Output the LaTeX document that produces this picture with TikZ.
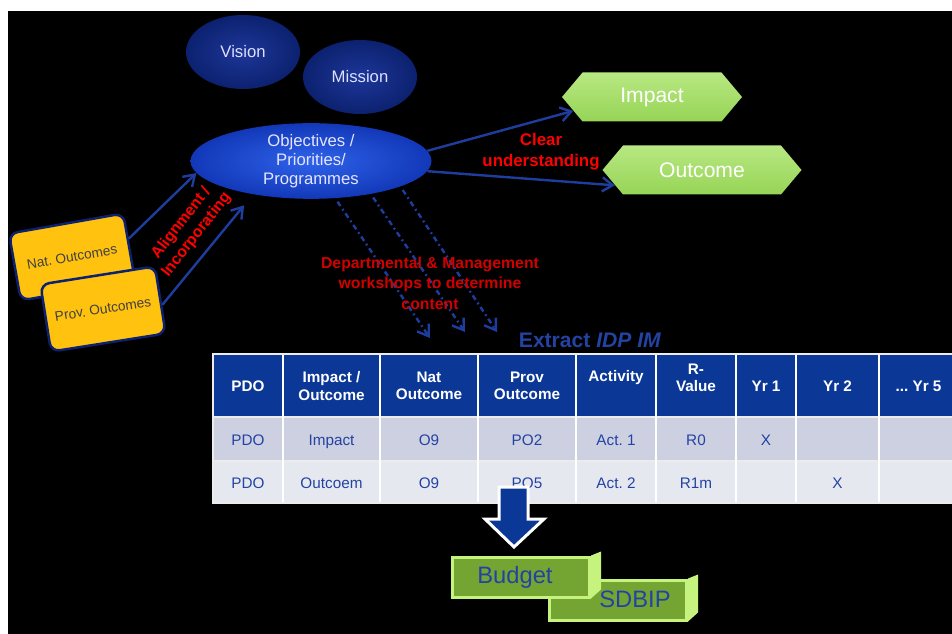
\documentclass[tikz,border=0pt]{standalone}
\usepackage{fontspec}
\setmainfont{Liberation Sans}
\usetikzlibrary{shapes.geometric,shapes.symbols,arrows.meta}
\definecolor{navy}{HTML}{1D3799}
\definecolor{deepnavy}{HTML}{0C216F}
\definecolor{brightblue}{HTML}{2F63EA}
\definecolor{midblue}{HTML}{1238B8}
\definecolor{linkblue}{HTML}{1E3D9E}
\definecolor{leafgreen}{HTML}{96D456}
\definecolor{paleleaf}{HTML}{B8E882}
\definecolor{gold}{HTML}{FFC20E}
\definecolor{headblue}{HTML}{0B3797}
\definecolor{rowgray}{HTML}{CCD0E0}
\definecolor{rowpale}{HTML}{E6E8F0}
\definecolor{cellblue}{HTML}{2343A3}
\definecolor{darkred}{HTML}{D00000}
\definecolor{plategreen}{HTML}{74A431}
\definecolor{platerim}{HTML}{C6F27E}
\newdimen\px \px=0.02cm
\newcommand{\conn}[2]{\draw[link] (#1) -- (#2);}
\frenchspacing

\begin{document}
\begin{tikzpicture}[x=0.02cm,y=-0.02cm,
  disc/.style={ellipse,minimum width=114\px,minimum height=74\px,inner sep=0pt,
    inner color=navy,outer color=deepnavy,text=white!88!blue,font=\fontsize{9.5}{11}\selectfont},
  hexa/.style={signal,signal to=east and west,signal pointer angle=100,inner sep=0pt,
    minimum height=49\px,top color=paleleaf,bottom color=leafgreen,text=white,
    font=\fontsize{12}{14}\selectfont},
  card/.style={rectangle,rounded corners=5pt,fill=gold,draw=deepnavy,line width=2.5\px,
    minimum width=116\px,minimum height=68\px,text=black!75,font=\fontsize{7.8}{9}\selectfont},
  link/.style={linkblue,line width=2.4\px,-{Straight Barb[length=6pt,width=8pt]}},
  workline/.style={dash pattern=on 3pt off 2pt on 1pt off 2pt},
  redlbl/.style={text=red,align=center},
  headcell/.style={text=white,align=center,font=\bfseries\fontsize{8.7}{9.8}\selectfont},
  bodycell/.style={text=cellblue,text height=1.6ex,text depth=.3ex,font=\fontsize{8.7}{10}\selectfont},
  plate/.style={rectangle,fill=plategreen,draw=platerim,line width=3\px,
    minimum width=137\px,minimum height=40\px},
  platetext/.style={text=cellblue,font=\fontsize{13.5}{15}\selectfont}]
\useasboundingbox (0,0) rectangle (952,634);
\fill[white] (0,0) rectangle (952,634);
\fill[black] (8,11) rectangle (952,634);

% vision, mission and objectives
\node[disc](vision) at (243,52) {Vision};
\node[disc](mission) at (360,77) {Mission};
\node[ellipse,minimum width=241\px,minimum height=73\px,inner sep=0pt,
  inner color=brightblue,outer color=midblue,text=white!90!blue,align=center,
  font=\fontsize{9.5}{10.8}\selectfont](obj) at (311,161) {Objectives /\\Priorities/\\Programmes};

\node[hexa,minimum width=180\px](impact) at (652,97) {Impact};
\node[hexa,minimum width=199\px](outcome) at (702,170) {Outcome};

\node[card,rotate=10](nat) at (72,257) {Nat. Outcomes};
\node[card,rotate=9](prov) at (103,309) {Prov. Outcomes};

\conn{obj.5}{impact.190}
\conn{obj.-5}{outcome.190}
\conn{nat.8}{obj.186}
\draw[link,shorten >=14\px] (prov.-5) -- (obj.210);

% workshops
\coordinate (d1) at (430,338);
\coordinate (d2) at (465,332);
\coordinate (d3) at (497,332);
\foreach \a/\e in {-57/d1,-29/d2,-16/d3}
  \draw[link,workline,shorten <=4\px] (obj.\a) -- (\e);

\node[redlbl,font=\bfseries\fontsize{9.6}{12}\selectfont](clear) at (541,152) {Clear\\understanding};
\node[redlbl,rotate=52,font=\bfseries\fontsize{9}{11}\selectfont](align) at (189,229) {Alignment /\\Incorporating};
\node[redlbl,text=darkred,font=\bfseries\fontsize{9}{11.7}\selectfont](dept) at (430,283)
  {Departmental \& Management\\workshops to determine\\content};

\node[text=cellblue,font=\bfseries\fontsize{12}{14}\selectfont](extract) at (590,340) {Extract \textit{IDP IM}};

% table
\fill[white!85!gray] (212,353) rectangle (952,504);
\fill[headblue] (214,355) rectangle (952,416);
\fill[rowgray] (214,418) rectangle (952,460);
\fill[rowpale] (214,462) rectangle (952,502);
\foreach \xa/\xb/\hy/\hd/\ra/\rb [count=\i] in {
  213/283/386/PDO/PDO/PDO,
  283/380/386/{Impact /\\Outcome}/Impact/Outcoem,
  380/478/386/{Nat\\Outcome}/O9/O9,
  478/576/386/{Prov\\Outcome}/PO2/PO5,
  576/656/378/Activity/{Act. 1}/{Act. 2},
  656/736/378/{R-\\Value}/R0/R1m,
  736/796/386/{Yr 1}/X/{},
  796/879/386/{Yr 2}/{}/X,
  879/958/386/{... Yr 5}/{}/{}}{
  \node[headcell](hd\i) at ({(\xa+\xb)/2},\hy) {\hd};
  \node[bodycell](ra\i) at ({(\xa+\xb)/2},439) {\ra};
  \node[bodycell](rb\i) at ({(\xa+\xb)/2},482) {\rb};
  \draw[white,line width=2\px] (\xb,355) -- (\xb,502);
}

\draw[white,line width=3\px,fill=headblue,line join=miter]
  (499,487) -- (528,487) -- (528,519) -- (544,519) -- (514,547) -- (485,519) -- (499,519) -- cycle;

% budget and sdbip
\node[plate](sdbip) at (618,600) {};
\fill[platerim] (sdbip.north east) -- ++(10,-4) -- ++(0,38) -- (sdbip.south east) -- cycle;
\node[platetext](sdbiplbl) at (635,599) {SDBIP};
\node[plate](budget) at (521,577) {};
\fill[platerim] (budget.north east) -- ++(10,-4) -- ++(0,38) -- (budget.south east) -- cycle;
\node[platetext](budgetlbl) at (515,577) {Budget};
\end{tikzpicture}
\end{document}
